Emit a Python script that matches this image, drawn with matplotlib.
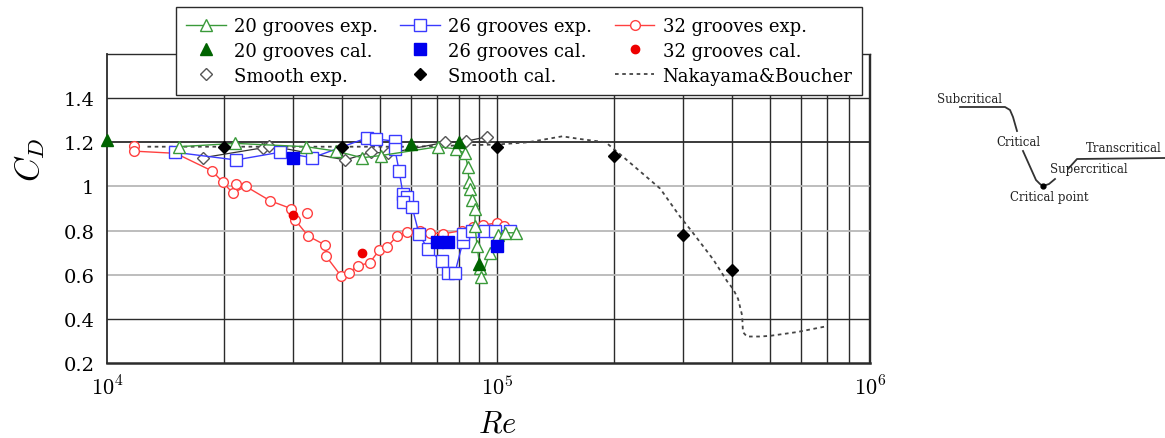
#plot of drag coefficient vs Reynolds number for grooved and smooth cylinders
import numpy as np
import matplotlib
matplotlib.use("Agg")
import matplotlib.pyplot as plt

#=====================Data===============
#20 grooves
g20_exp_re = [1.53e4, 2.13e4, 3.24e4, 3.87e4, 4.51e4, 5.04e4, 7.07e4, 7.85e4, 8.27e4, 8.42e4, 8.47e4,
              8.52e4, 8.62e4, 8.78e4, 8.78e4, 8.89e4, 9.04e4, 9.12e4, 9.6e4, 1.005e5, 1.05e5, 1.12e5]
g20_exp_cd = [1.18, 1.195, 1.18, 1.16, 1.13, 1.14, 1.18, 1.17, 1.15, 1.09, 1.02,
              0.99, 0.94, 0.90, 0.82, 0.73, 0.63, 0.59, 0.70, 0.78, 0.79, 0.79]
g20_cal_re = [1e4, 6e4, 8e4, 9e4]
g20_cal_cd = [1.21, 1.19, 1.20, 0.65]

#26 grooves
g26_exp_re = [1.49e4, 2.14e4, 2.78e4, 3.36e4, 4.64e4, 4.90e4, 5.47e4, 5.47e4, 5.61e4, 5.74e4, 5.88e4, 5.74e4,
              6.06e4, 6.31e4, 6.65e4, 7.22e4, 7.49e4, 7.80e4, 8.18e4, 8.18e4, 8.62e4, 9.31e4, 9.88e4, 1.08e5]
g26_exp_cd = [1.155, 1.12, 1.155, 1.13, 1.22, 1.215, 1.205, 1.17, 1.07, 0.965, 0.95, 0.93,
              0.905, 0.785, 0.715, 0.66, 0.61, 0.61, 0.75, 0.785, 0.80, 0.80, 0.80, 0.80]
g26_cal_re = [3e4, 7e4, 7.5e4, 1e5]
g26_cal_cd = [1.13, 0.75, 0.75, 0.73]

#32 grooves
g32_exp_re = [1.17e4, 1.17e4, 1.5e4, 1.86e4, 1.98e4, 2.10e4, 2.27e4, 2.62e4, 2.96e4, 3.03e4, 3.28e4, 3.62e4,
              3.64e4, 3.98e4, 4.17e4, 4.40e4, 4.72e4, 4.98e4, 5.22e4, 5.54e4, 5.88e4, 6.35e4, 6.73e4,
              7.27e4, 8.13e4, 8.67e4, 9.21e4, 1.0e5, 1.04e5]
g32_exp_cd = [1.185, 1.16, 1.15, 1.07, 1.02, 0.97, 1.00, 0.935, 0.90, 0.85, 0.775, 0.735,
              0.685, 0.595, 0.61, 0.64, 0.655, 0.71, 0.725, 0.775, 0.795, 0.80, 0.79,
              0.785, 0.80, 0.815, 0.825, 0.835, 0.82]
g32_extra_re = [2.14e4, 3.26e4] #points off the connecting line
g32_extra_cd = [1.01, 0.88]
g32_cal_re = [3e4, 4.5e4]
g32_cal_cd = [0.87, 0.70]

#smooth cylinder
smooth_exp_re = [1.76e4, 2.51e4, 2.6e4, 4.08e4, 4.75e4, 5.26e4, 7.36e4, 8.33e4, 9.43e4]
smooth_exp_cd = [1.13, 1.175, 1.185, 1.12, 1.155, 1.15, 1.20, 1.205, 1.225]
smooth_cal_re = [2e4, 4e4, 1e5, 2e5, 3e5, 4e5]
smooth_cal_cd = [1.18, 1.18, 1.18, 1.137, 0.78, 0.62]

#Nakayama & Boucher reference curve
nak_re = [1.27e4, 3e4, 6e4, 1e5, 1.2e5, 1.47e5, 1.63e5, 1.90e5, 1.99e5, 2.07e5, 2.62e5, 2.94e5,
          3.13e5, 3.58e5, 3.89e5, 4.03e5, 4.15e5, 4.25e5, 4.27e5, 4.37e5, 4.72e5, 5.01e5, 5.87e5, 6.93e5]
nak_cd = [1.18, 1.18, 1.18, 1.19, 1.20, 1.227, 1.215, 1.20, 1.17, 1.145, 0.99, 0.865,
          0.805, 0.67, 0.57, 0.535, 0.49, 0.415, 0.34, 0.32, 0.32, 0.323, 0.34, 0.365]

y_ticks = [0.2, 0.4, 0.6, 0.8, 1.0, 1.2, 1.4]
y_tick_labels = ['0.2', '0.4', '0.6', '0.8', '1', '1.2', '1.4']
x_max = 9.04e5
x_ticks = [1e4, 1e5, x_max]
x_tick_labels = ['$10^4$', '$10^5$', '$10^6$']

#schematic on the right (figure pixel coordinates)
sketch_x = [960, 1005, 1010, 1013, 1017]
sketch_y = [108, 108, 111, 118, 132]
sketch2_x = [1023, 1036, 1040, 1043, 1049, 1055]
sketch2_y = [152, 181, 185, 187, 185, 180]
sketch3_x = [1068, 1077, 1165]
sketch3_y = [170, 160, 159]

#=================================Plot======================================
plt.rcParams['font.family'] = ['DejaVu Serif']
plt.rcParams['mathtext.fontset'] = 'cm'

W, H = 1165, 439
fig = plt.figure(figsize=(W / 100, H / 100), dpi=100)
ax = fig.add_axes([107 / W, 1 - 364 / H, 763 / W, 309 / H])
ax.set_xscale('log')
ax.set_xlim(1e4, x_max)
ax.set_ylim(0.2, 1.6)

#grid
minor = [k * 10 ** e for e in (4, 5) for k in range(2, 10)]
for xv in minor + [1e5]:
    if xv < x_max:
        ax.axvline(xv, color='#2b2b2b', lw=1.0, zorder=0)
dark_rows = [0.4, 1.2, 1.4]
for yv in y_ticks[1:]:
    if yv in dark_rows:
        ax.axhline(yv, color='#2b2b2b', lw=1.3 if yv == 1.2 else 1.0, zorder=0)
    else:
        ax.axhline(yv, color='#b8b8b8', lw=1.3, zorder=0)
for sp in ax.spines.values():
    sp.set_color('#2b2b2b')
    sp.set_linewidth(1.0)
ax.spines['bottom'].set_linewidth(1.8)
ax.spines['left'].set_linewidth(1.3)

ax.set_xticks(x_ticks)
ax.set_xticklabels(x_tick_labels, fontsize=16)
ax.set_xticks([], minor=True)
ax.set_yticks(y_ticks)
ax.set_yticklabels(y_tick_labels, fontsize=14)
ax.tick_params(axis='both', length=0)
ax.tick_params(axis='y', pad=9)
ax.tick_params(axis='x', pad=9)
ax.set_xlabel('$Re$', fontsize=22)
ax.xaxis.set_label_coords(0.511, -0.145)
ax.set_ylabel('$C_D$', fontsize=24)
ax.yaxis.set_label_coords(-0.078, 0.66)

#curves
h_nak, = ax.plot(nak_re, nak_cd, color='#444444', ls=(0, (2, 2)), lw=1.3, label='Nakayama&Boucher', zorder=2)
ax.plot(smooth_exp_re, smooth_exp_cd, color='#333333', lw=0.9, zorder=2)
h_sexp, = ax.plot(smooth_exp_re, smooth_exp_cd, ls='none', marker='D', ms=6, mfc='white', mec='#555555',
                  mew=1.0, label='Smooth exp.', zorder=3)
h_scal, = ax.plot(smooth_cal_re, smooth_cal_cd, ls='none', marker='D', ms=6.5, color='black',
                  label='Smooth cal.', zorder=6)

h_g32, = ax.plot(g32_exp_re, g32_exp_cd, color='#ff4040', lw=1.0, marker='o', ms=7, mfc='white',
                 mec='#ff4040', mew=1.0, label='32 grooves exp.', zorder=3)
ax.plot(g32_extra_re, g32_extra_cd, ls='none', marker='o', ms=7, mfc='white', mec='#ff4040', mew=1.0, zorder=3)
h_g32c, = ax.plot(g32_cal_re, g32_cal_cd, ls='none', marker='o', ms=6, color='#ee0000',
                  label='32 grooves cal.', zorder=6)

h_g26, = ax.plot(g26_exp_re, g26_exp_cd, color='#3a3aff', lw=1.0, marker='s', ms=8, mfc='white',
                 mec='#3a3aff', mew=1.0, label='26 grooves exp.', zorder=4)
h_g26c, = ax.plot(g26_cal_re, g26_cal_cd, ls='none', marker='s', ms=8, color='#0000ee',
                  label='26 grooves cal.', zorder=6)

h_g20, = ax.plot(g20_exp_re, g20_exp_cd, color='#3a9a3a', lw=1.0, marker='^', ms=9, mfc='white',
                 mec='#3a9a3a', mew=1.0, label='20 grooves exp.', zorder=5)
h_g20c, = ax.plot(g20_cal_re, g20_cal_cd, ls='none', marker='^', ms=8.5, color='#006400',
                  label='20 grooves cal.', zorder=6, clip_on=False)

handles = [h_g20, h_g20c, h_sexp, h_g26, h_g26c, h_scal, h_g32, h_g32c, h_nak]
leg = ax.legend(handles=handles, loc='upper left', bbox_to_anchor=(176 / W, 1 - 8 / H),
                bbox_transform=fig.transFigure, ncol=3, fontsize=13, frameon=True, fancybox=False,
                framealpha=1, edgecolor='#2b2b2b', handlelength=2.2, handletextpad=0.45,
                columnspacing=1.25, labelspacing=0.38, borderpad=0.55, borderaxespad=0)
leg.get_frame().set_linewidth(1.0)
leg.set_zorder(10)

#schematic of flow regimes
sk = fig.add_axes([0, 0, 1, 1], zorder=-1)
sk.set_xlim(0, W)
sk.set_ylim(H, 0)
sk.axis('off')
for xs, ys in [(sketch_x, sketch_y), (sketch2_x, sketch2_y), (sketch3_x, sketch3_y)]:
    sk.plot(xs, ys, color='#333333', lw=1.3)
sk.plot([1043], [187], marker='o', ms=3.5, color='black')
sk.text(937, 100, 'Subcritical', fontsize=8.5, ha='left', va='center', color='#222222')
sk.text(1018, 143, 'Critical', fontsize=8.5, ha='center', va='center', color='#222222')
sk.text(1086, 149, 'Transcritical', fontsize=8.5, ha='left', va='center', color='#222222')
sk.text(1050, 170, 'Supercritical', fontsize=8.5, ha='left', va='center', color='#222222')
sk.text(1049, 198, 'Critical point', fontsize=8.5, ha='center', va='center', color='#222222')

plt.savefig('out.png', dpi=100)
